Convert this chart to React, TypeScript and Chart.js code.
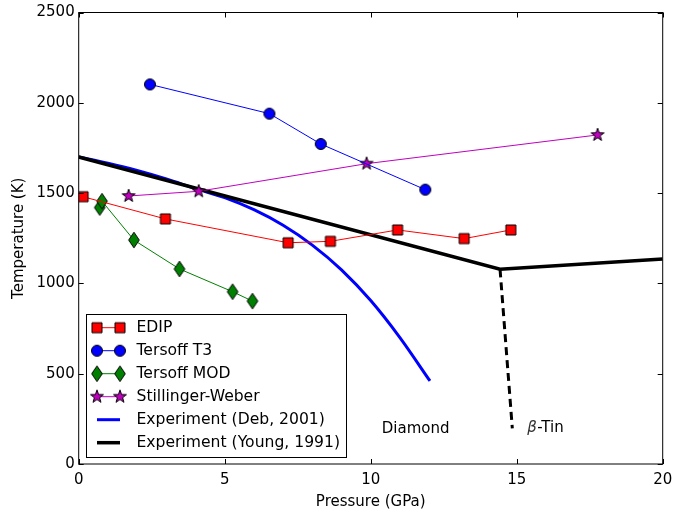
import React, { useEffect, useRef } from 'react';
import { Chart, registerables } from 'chart.js';

Chart.register(...registerables);

// ---- data ----
const edipP = [0.15, 2.97, 7.17, 8.62, 10.92, 13.2, 14.8];
const edipT = [1480, 1357, 1225, 1233, 1296, 1248, 1296];

const t3P = [2.44, 6.53, 8.29, 11.87];
const t3T = [2102, 1940, 1772, 1519];

const modP = [0.72, 0.8, 1.89, 3.45, 5.27, 5.95];
const modT = [1420, 1455, 1240, 1080, 954, 902];

const swP = [1.71, 4.11, 9.86, 17.77];
const swT = [1484, 1510, 1663, 1822];

const debP = [0, 1, 2, 3, 4, 5, 6, 7, 8, 9, 10, 11, 12.03];
const debT = [1700, 1665, 1625, 1578, 1525, 1475, 1408, 1322, 1212, 1075, 905, 700, 460];

const youngP = [0, 14.43, 20];
const youngT = [1700, 1078, 1135];

const youngDashP = [14.43, 14.85];
const youngDashT = [1078, 197];

const xTicks = [0, 5, 10, 15, 20];
const yTicks = [0, 500, 1000, 1500, 2000, 2500];

const legendLabels = [
  'EDIP',
  'Tersoff T3',
  'Tersoff MOD',
  'Stillinger-Weber',
  'Experiment (Deb, 2001)',
  'Experiment (Young, 1991)',
];

const diamondLabel = { text: 'Diamond', p: 10.38, t: 194 };
const tinLabel = { greek: 'β', text: '-Tin', p: 15.36, t: 199 };

const FONT = "'DejaVu Sans', sans-serif";

const toPts = (xs: number[], ys: number[]) => xs.map((x, i) => ({ x, y: ys[i] }));

function makeMarker(kind: string, fill: string): HTMLCanvasElement {
  const c = document.createElement('canvas');
  c.width = 20;
  c.height = 20;
  const ctx = c.getContext('2d')!;
  ctx.translate(10, 10);
  ctx.beginPath();
  if (kind === 'square') {
    ctx.rect(-5, -5, 10, 10);
  } else if (kind === 'circle') {
    ctx.arc(0, 0, 5.5, 0, Math.PI * 2);
  } else if (kind === 'diamond') {
    ctx.moveTo(0, -7.8);
    ctx.lineTo(5.3, 0);
    ctx.lineTo(0, 7.8);
    ctx.lineTo(-5.3, 0);
    ctx.closePath();
  } else if (kind === 'star') {
    for (let i = 0; i < 10; i++) {
      const r = i % 2 === 0 ? 6.8 : 2.7;
      const a = -Math.PI / 2 + (i * Math.PI) / 5;
      const px = r * Math.cos(a);
      const py = r * Math.sin(a);
      if (i === 0) ctx.moveTo(px, py);
      else ctx.lineTo(px, py);
    }
    ctx.closePath();
  }
  ctx.fillStyle = fill;
  ctx.fill();
  ctx.lineWidth = 1;
  ctx.strokeStyle = '#000';
  ctx.stroke();
  return c;
}

export default function App() {
  const ref = useRef<HTMLCanvasElement | null>(null);

  useEffect(() => {
    if (!ref.current) return;
    const mSquare = makeMarker('square', '#ff0000');
    const mCircle = makeMarker('circle', '#0000ff');
    const mDiamond = makeMarker('diamond', '#008000');
    const mStar = makeMarker('star', '#bf00bf');

    const legendItems = [
      { color: '#ff0000', width: 1, marker: mSquare },
      { color: '#0000ff', width: 1, marker: mCircle },
      { color: '#008000', width: 1, marker: mDiamond },
      { color: '#bf00bf', width: 1, marker: mStar },
      { color: '#0000ff', width: 3, marker: null },
      { color: '#000000', width: 3.5, marker: null },
    ];

    const decor = {
      id: 'decor',
      afterDraw(chart: any) {
        const { ctx, chartArea: a, scales } = chart;
        const xs = scales.x;
        const ys = scales.y;
        ctx.save();
        // frame
        ctx.strokeStyle = '#000';
        ctx.lineWidth = 1;
        ctx.strokeRect(a.left, a.top, a.right - a.left, a.bottom - a.top);
        // inward ticks on all sides
        const tl = 5;
        ctx.beginPath();
        xTicks.forEach((v) => {
          const px = Math.round(xs.getPixelForValue(v)) + 0.5;
          ctx.moveTo(px, a.bottom);
          ctx.lineTo(px, a.bottom - tl);
          ctx.moveTo(px, a.top);
          ctx.lineTo(px, a.top + tl);
        });
        yTicks.forEach((v) => {
          const py = Math.round(ys.getPixelForValue(v)) + 0.5;
          ctx.moveTo(a.left, py);
          ctx.lineTo(a.left + tl, py);
          ctx.moveTo(a.right, py);
          ctx.lineTo(a.right - tl, py);
        });
        ctx.stroke();

        // annotations
        ctx.fillStyle = '#000';
        ctx.textBaseline = 'middle';
        ctx.textAlign = 'left';
        ctx.font = `15px ${FONT}`;
        ctx.fillText(diamondLabel.text, xs.getPixelForValue(diamondLabel.p), ys.getPixelForValue(diamondLabel.t));
        const tx = xs.getPixelForValue(tinLabel.p);
        const ty = ys.getPixelForValue(tinLabel.t);
        ctx.font = `italic 15px ${FONT}`;
        ctx.fillStyle = '#333';
        ctx.fillText(tinLabel.greek, tx, ty);
        const gw = ctx.measureText(tinLabel.greek).width;
        ctx.fillStyle = '#000';
        ctx.font = `15px ${FONT}`;
        ctx.fillText(tinLabel.text, tx + gw + 0.5, ty);

        // legend
        const bx = 86.5, by = 314.5, bw = 260, bh = 143;
        ctx.fillStyle = '#fff';
        ctx.fillRect(bx, by, bw, bh);
        ctx.strokeStyle = '#000';
        ctx.lineWidth = 1;
        ctx.strokeRect(bx, by, bw, bh);
        const x0 = 97, x1 = 120, textX = 136.5;
        legendItems.forEach((it, i) => {
          const y = 327.7 + i * 23;
          ctx.strokeStyle = it.color;
          ctx.lineWidth = it.width;
          ctx.beginPath();
          ctx.moveTo(x0, y);
          ctx.lineTo(x1, y);
          ctx.stroke();
          if (it.marker) {
            const m = it.marker;
            ctx.drawImage(m, x0 - m.width / 2, y - m.height / 2);
            ctx.drawImage(m, x1 - m.width / 2, y - m.height / 2);
          }
          ctx.fillStyle = '#000';
          ctx.font = `15.6px ${FONT}`;
          ctx.textBaseline = 'middle';
          ctx.fillText(legendLabels[i], textX, y + 0.5);
        });
        ctx.restore();
      },
    };

    const chart = new Chart(ref.current, {
      type: 'scatter',
      data: {
        datasets: [
          {
            label: 'EDIP',
            data: toPts(edipP, edipT),
            showLine: true,
            borderColor: '#ff0000',
            borderWidth: 1,
            pointStyle: mSquare as any,
          },
          {
            label: 'Tersoff T3',
            data: toPts(t3P, t3T),
            showLine: true,
            borderColor: '#0000ff',
            borderWidth: 1,
            pointStyle: mCircle as any,
          },
          {
            label: 'Tersoff MOD',
            data: toPts(modP, modT),
            showLine: true,
            borderColor: '#008000',
            borderWidth: 1,
            pointStyle: mDiamond as any,
          },
          {
            label: 'Stillinger-Weber',
            data: toPts(swP, swT),
            showLine: true,
            borderColor: '#bf00bf',
            borderWidth: 1,
            pointStyle: mStar as any,
          },
          {
            label: 'Young dashed',
            data: toPts(youngDashP, youngDashT),
            showLine: true,
            borderColor: '#000',
            borderWidth: 3,
            borderDash: [8, 5],
            pointRadius: 0,
          },
          {
            label: 'Experiment (Young, 1991)',
            data: toPts(youngP, youngT),
            showLine: true,
            borderColor: '#000',
            borderWidth: 3.5,
            pointRadius: 0,
          },
          {
            label: 'Experiment (Deb, 2001)',
            data: toPts(debP, debT),
            showLine: true,
            borderColor: '#0000ff',
            borderWidth: 3,
            pointRadius: 0,
            cubicInterpolationMode: 'monotone',
          } as any,
        ],
      },
      options: {
        animation: false,
        responsive: true,
        maintainAspectRatio: false,
        layout: { padding: { left: 0, top: 12.5, right: 10.3, bottom: 0 } },
        plugins: { legend: { display: false }, tooltip: { enabled: false } },
        events: [],
        scales: {
          x: {
            type: 'linear',
            min: 0,
            max: 20,
            grid: { display: false, drawTicks: false },
            border: { display: false },
            ticks: {
              stepSize: 5,
              padding: 7,
              color: '#000',
              font: { family: FONT, size: 15 },
              callback: (v: any) => String(v),
            },
            title: {
              display: true,
              text: 'Pressure (GPa)',
              color: '#000',
              font: { family: FONT, size: 15 },
              padding: { top: 0, bottom: 5 },
            },
            afterFit(s: any) {
              s.height = 52;
              s.paddingLeft = 0;
              s.paddingRight = 0;
            },
          },
          y: {
            type: 'linear',
            min: 0,
            max: 2500,
            grid: { display: false, drawTicks: false },
            border: { display: false },
            ticks: {
              stepSize: 500,
              padding: 4,
              color: '#000',
              font: { family: FONT, size: 15 },
              callback: (v: any) => String(v),
            },
            title: {
              display: true,
              text: 'Temperature (K)',
              color: '#000',
              font: { family: FONT, size: 15 },
              padding: { top: 10, bottom: 0 },
            },
            afterFit(s: any) {
              s.width = 78.7;
              s.paddingTop = 0;
              s.paddingBottom = 0;
            },
          },
        },
      },
      plugins: [decor],
    });
    return () => chart.destroy();
  }, []);

  return (
    <div style={{ position: 'fixed', left: 0, top: 0, width: 673, height: 516, background: '#fff' }}>
      <canvas ref={ref} />
    </div>
  );
}
